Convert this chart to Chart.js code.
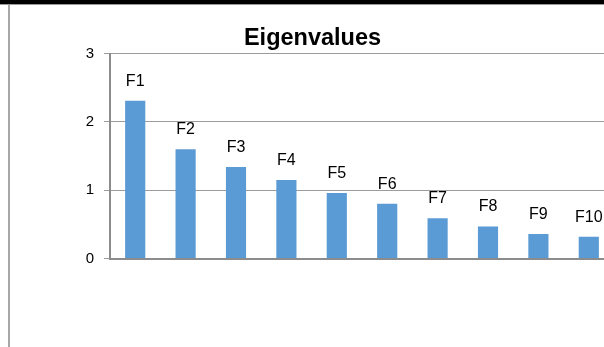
<!DOCTYPE html>
<html>
<head>
<meta charset="utf-8">
<script src="https://cdn.jsdelivr.net/npm/chart.js@4"></script>
<style>
  html, body { margin: 0; padding: 0; width: 604px; height: 347px; overflow: hidden; background: #fff; }
  #wrap { position: absolute; left: 0; top: 0; width: 620px; height: 347px; }
  #topbar { position: absolute; left: 0; top: 0; width: 604px; height: 4px; background: #000; z-index: 2; }
  #topline { position: absolute; left: 0; top: 4px; width: 604px; height: 1px; background: #9a9a9a; z-index: 2; }
  #leftline { position: absolute; left: 8px; top: 5px; width: 2px; height: 342px; background: #a8a8a8; z-index: 2; }
</style>
</head>
<body>
<div id="wrap"><canvas id="chart" width="620" height="347"></canvas></div>
<div id="topbar"></div>
<div id="topline"></div>
<div id="leftline"></div>
<script>
// Factor names and their eigenvalues
const categories = ['F1', 'F2', 'F3', 'F4', 'F5', 'F6', 'F7', 'F8', 'F9', 'F10'];
const eigenvalues = [2.31, 1.60, 1.34, 1.15, 0.96, 0.80, 0.59, 0.47, 0.36, 0.32];
const yTicks = [0, 1, 2, 3];

const FONT = "'Liberation Sans', Arial, sans-serif";

// Writes each factor name just above its bar
const factorLabels = {
  id: 'factorLabels',
  afterDatasetsDraw(chart) {
    const ctx = chart.ctx;
    const meta = chart.getDatasetMeta(0);
    ctx.save();
    ctx.font = '16px ' + FONT;
    ctx.fillStyle = '#000';
    ctx.textAlign = 'center';
    ctx.textBaseline = 'alphabetic';
    meta.data.forEach((bar, i) => {
      ctx.fillText(categories[i], bar.x, bar.y - 15);
    });
    ctx.restore();
  }
};

new Chart(document.getElementById('chart'), {
  type: 'bar',
  data: {
    labels: categories,
    datasets: [{
      data: eigenvalues,
      backgroundColor: '#5B9BD5',
      borderWidth: 0,
      barPercentage: 0.4,
      categoryPercentage: 1.0
    }]
  },
  options: {
    responsive: false,
    animation: false,
    layout: { padding: { left: 11, right: 6, top: 0, bottom: 88.5 } },
    plugins: {
      legend: { display: false },
      tooltip: { enabled: false },
      title: {
        display: true,
        text: 'Eigenvalues',
        color: '#000',
        font: { family: FONT, size: 23.5, weight: 'bold' },
        padding: { top: 24, bottom: 1.3 }
      }
    },
    scales: {
      x: {
        grid: { display: false },
        ticks: { display: false },
        border: { display: true, color: '#8c8c8c', width: 2 },
        afterFit(scale) { scale.height = 0; }
      },
      y: {
        min: 0,
        max: 3,
        afterBuildTicks(scale) { scale.ticks = yTicks.map(v => ({ value: v })); },
        ticks: {
          color: '#000',
          padding: 10,
          font: { family: FONT, size: 15 }
        },
        grid: { color: '#9c9c9c', lineWidth: 1, tickLength: 6, tickColor: '#9c9c9c' },
        border: { display: true, color: '#8c8c8c', width: 2 },
        afterFit(scale) { scale.width = 99; }
      }
    }
  },
  plugins: [factorLabels]
});
</script>
</body>
</html>
